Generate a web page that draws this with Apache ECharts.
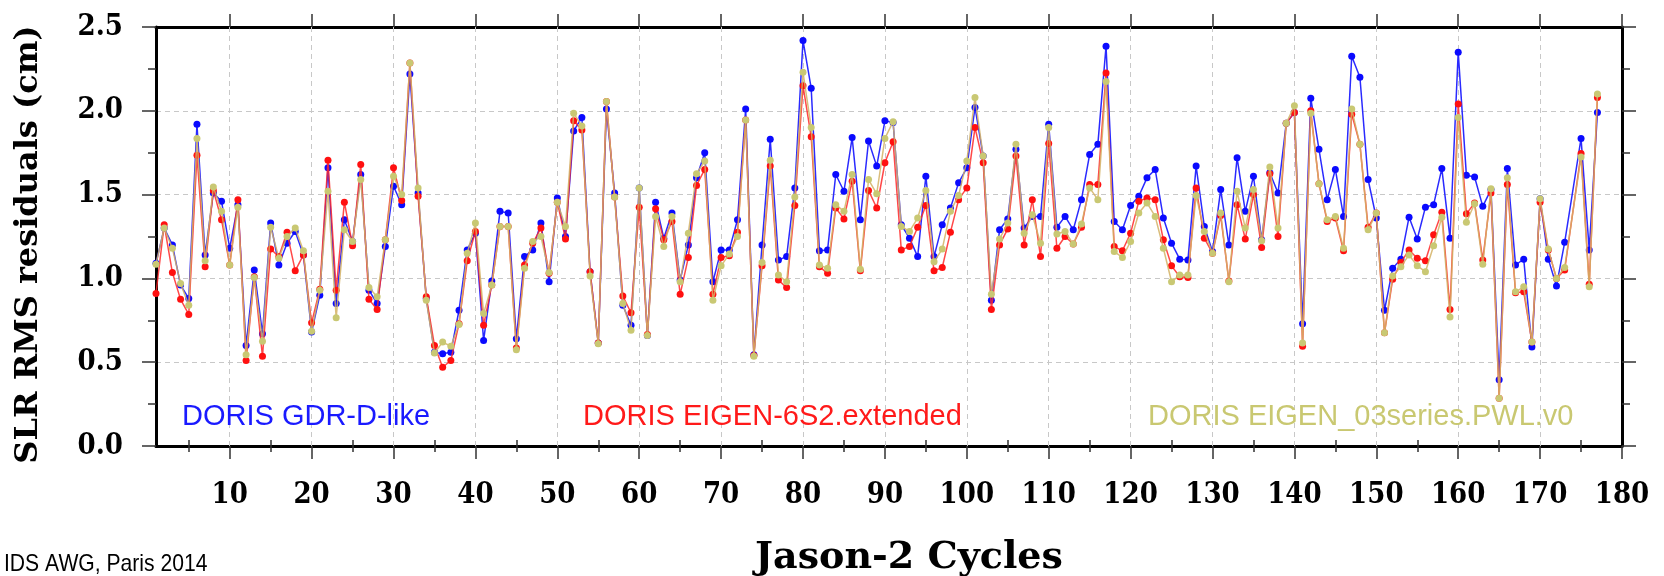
<!DOCTYPE html>
<html>
<head>
<meta charset="utf-8">
<script src="https://cdn.jsdelivr.net/npm/echarts@6/dist/echarts.min.js"></script>
<style>html,body{margin:0;padding:0;background:#fff}#chart{width:1664px;height:576px}</style>
</head>
<body>
<div id="chart"></div>
<script>
// Jason-2 cycle numbers 1..177
const cycles = Array.from({length: 177}, (_, i) => i + 1);
const xLabelValues = [10,20,30,40,50,60,70,80,90,100,110,120,130,140,150,160,170,180];
const xMinorTickValues = [5,15,25,35,45,55,65,75,85,95,105,115,125,135,145,155,165,175];
const xGridValues = [10,20,30,40,50,60,70,80,90,100,110,120,130,140,150,160,170];
const seriesNames = ['DORIS GDR-D-like', 'DORIS EIGEN-6S2.extended', 'DORIS EIGEN_03series.PWL.v0'];

const gdr = [1.09,1.30,1.20,0.96,0.88,1.92,1.14,1.51,1.46,1.18,
1.44,0.60,1.05,0.67,1.33,1.08,1.21,1.28,1.14,0.68,
0.90,1.66,0.85,1.35,1.22,1.62,0.93,0.85,1.19,1.55,
1.44,2.22,1.51,0.88,0.56,0.55,0.56,0.81,1.17,1.27,
0.63,0.985,1.40,1.39,0.64,1.13,1.17,1.33,0.98,1.48,
1.25,1.88,1.96,1.04,0.615,2.01,1.51,0.84,0.72,1.54,
0.66,1.455,1.24,1.39,0.99,1.20,1.60,1.75,0.98,1.17,
1.17,1.35,2.01,0.545,1.20,1.83,1.11,1.13,1.54,2.42,
2.135,1.165,1.17,1.62,1.52,1.84,1.35,1.82,1.67,1.94,
1.93,1.32,1.24,1.13,1.61,1.13,1.32,1.42,1.57,1.66,
2.02,1.73,0.87,1.29,1.355,1.77,1.30,1.37,1.37,1.92,
1.305,1.37,1.29,1.47,1.74,1.80,2.385,1.34,1.29,1.435,
1.49,1.60,1.65,1.36,1.21,1.115,1.11,1.67,1.31,1.16,
1.53,1.20,1.72,1.40,1.61,1.23,1.63,1.51,1.925,1.99,
0.73,2.075,1.77,1.47,1.65,1.37,2.325,2.20,1.59,1.36,
0.81,1.06,1.115,1.365,1.235,1.425,1.44,1.655,1.24,2.35,
1.615,1.605,1.43,1.53,0.395,1.655,1.08,1.115,0.59,1.475,
1.115,0.955,1.215,null,1.835,1.17,1.99];

const eigen6s2 = [0.91,1.32,1.035,0.875,0.785,1.735,1.07,1.525,1.35,1.08,
1.47,0.51,1.01,0.535,1.175,1.13,1.275,1.045,1.14,0.735,
0.935,1.705,0.93,1.455,1.195,1.68,0.875,0.815,1.23,1.66,
1.465,2.285,1.49,0.89,0.60,0.47,0.51,0.73,1.105,1.28,
0.72,0.96,1.31,1.31,0.585,1.08,1.21,1.30,1.03,1.455,
1.235,1.94,1.885,1.04,0.615,2.055,1.485,0.895,0.795,1.425,
0.665,1.415,1.23,1.34,0.905,1.125,1.555,1.65,0.905,1.125,
1.135,1.275,1.945,0.54,1.075,1.67,0.99,0.945,1.435,2.15,
1.845,1.07,1.03,1.42,1.355,1.58,1.045,1.525,1.42,1.69,
1.815,1.17,1.19,1.305,1.435,1.045,1.065,1.275,1.47,1.54,
1.90,1.69,0.815,1.20,1.295,1.73,1.20,1.47,1.13,1.805,
1.18,1.25,1.205,1.305,1.56,1.56,2.225,1.19,1.165,1.27,
1.46,1.48,1.47,1.23,1.075,1.01,1.005,1.54,1.24,1.15,
1.375,0.985,1.44,1.235,1.50,1.185,1.625,1.25,1.925,1.99,
0.595,2.00,1.565,1.34,1.36,1.165,1.98,1.80,1.305,1.39,
0.675,0.995,1.095,1.17,1.12,1.105,1.26,1.395,0.815,2.04,
1.385,1.45,1.11,1.51,0.285,1.56,0.915,0.92,0.62,1.455,
1.17,1.00,1.05,null,1.745,0.965,2.08];

const eigen03 = [1.085,1.30,1.18,0.97,0.84,1.835,1.105,1.545,1.40,1.08,
1.425,0.545,1.005,0.625,1.305,1.12,1.25,1.30,1.165,0.685,
0.93,1.52,0.765,1.29,1.22,1.59,0.945,0.89,1.23,1.61,
1.50,2.285,1.54,0.87,0.555,0.62,0.595,0.725,1.15,1.33,
0.79,0.96,1.31,1.31,0.575,1.06,1.22,1.25,1.035,1.455,
1.31,1.985,1.91,1.015,0.61,2.055,1.485,0.85,0.69,1.54,
0.66,1.37,1.19,1.37,0.98,1.27,1.625,1.70,0.87,1.075,
1.145,1.25,1.945,0.535,1.095,1.705,1.02,0.98,1.485,2.23,
1.90,1.08,1.06,1.44,1.40,1.62,1.055,1.59,1.505,1.835,
1.935,1.31,1.28,1.36,1.525,1.10,1.175,1.40,1.495,1.70,
2.08,1.73,0.905,1.235,1.33,1.80,1.27,1.38,1.21,1.90,
1.265,1.28,1.205,1.325,1.54,1.47,2.175,1.16,1.125,1.22,
1.39,1.45,1.37,1.18,0.98,1.02,1.02,1.495,1.28,1.15,
1.39,0.98,1.52,1.30,1.53,1.225,1.665,1.30,1.925,2.03,
0.615,1.985,1.565,1.35,1.37,1.18,2.01,1.80,1.29,1.39,
0.675,1.015,1.07,1.14,1.075,1.04,1.195,1.365,0.77,1.96,
1.335,1.445,1.085,1.535,0.285,1.60,0.92,0.95,0.62,1.475,
1.175,1.00,1.065,null,1.725,0.95,2.10];

function pairs(vals) { return cycles.map((c, i) => [c, vals[i]]); }

const chart = echarts.init(document.getElementById('chart'), null, {renderer: 'canvas'});
const serifCond = "'DejaVu Serif Condensed', 'DejaVu Serif', serif";
const labelFont = {fontFamily: serifCond, fontWeight: 'bold', fontSize: 29, color: '#000'};
const frame = {show: true, onZero: false, lineStyle: {color: '#000', width: 3}};
const gridDash = {color: '#c8c8c8', width: 1, type: [5, 4]};
const tickStyle = {color: '#333', width: 1.5};

function lineSeries(name, vals, lineColor, dotColor, z) {
  return {
    name: name, type: 'line', data: pairs(vals), connectNulls: true,
    symbol: 'circle', symbolSize: 7, z: z,
    lineStyle: {color: lineColor, width: 1.5},
    itemStyle: {color: dotColor},
    emphasis: {disabled: true}
  };
}

function legendItem(name, left, color) {
  return {
    data: [name], left: left, top: 402, icon: 'none', itemWidth: 0, itemGap: 0,
    selectedMode: false, padding: 0,
    textStyle: {color: color, fontSize: 29, fontFamily: 'Liberation Sans'}
  };
}

function minorXAxis(pos) {
  return {
    type: 'value', position: pos, min: 1, max: 180,
    axisLine: {show: false},
    axisTick: {show: true, inside: false, length: 6, customValues: xMinorTickValues, lineStyle: tickStyle},
    axisLabel: {show: false},
    splitLine: {show: false}
  };
}

chart.setOption({
  animation: false,
  backgroundColor: '#fff',
  grid: {left: 156, right: 42, top: 27, bottom: 130, containLabel: false, outerBoundsMode: 'none'},
  legend: [
    legendItem(seriesNames[0], 177, '#1a1aff'),
    legendItem(seriesNames[1], 578, '#ff1a1a'),
    legendItem(seriesNames[2], 1143, '#c9c871')
  ],
  xAxis: [{
    type: 'value', position: 'bottom', min: 1, max: 180,
    name: 'Jason-2 Cycles', nameLocation: 'middle', nameGap: 93,
    nameTextStyle: {fontFamily: 'DejaVu Serif', fontWeight: 'bold', fontSize: 38, color: '#000', padding: [0, 0, 0, 40]},
    axisLine: frame,
    axisTick: {show: true, inside: false, length: 13, customValues: xLabelValues, lineStyle: tickStyle},
    axisLabel: Object.assign({show: true, margin: 35, customValues: xLabelValues}, labelFont),
    splitLine: {show: false}
  }, {
    type: 'value', position: 'top', min: 1, max: 180,
    axisLine: frame,
    axisTick: {show: true, inside: false, length: 13, customValues: xLabelValues, lineStyle: tickStyle},
    axisLabel: {show: false},
    splitLine: {show: false}
  },
  minorXAxis('bottom'),
  minorXAxis('top')],
  yAxis: [{
    type: 'value', position: 'left', min: 0, max: 2.5, interval: 0.5,
    name: 'SLR RMS residuals (cm)', nameLocation: 'middle', nameGap: 111,
    nameTextStyle: {fontFamily: 'DejaVu Serif', fontWeight: 'bold', fontSize: 32, color: '#000', padding: [0, 16, 0, 0]},
    axisLine: frame,
    axisTick: {show: true, inside: false, length: 14, lineStyle: tickStyle},
    minorTick: {show: true, splitNumber: 2, length: 8, lineStyle: tickStyle},
    axisLabel: Object.assign({margin: 33, formatter: v => v.toFixed(1)}, labelFont),
    splitLine: {show: true, lineStyle: gridDash}
  }, {
    type: 'value', position: 'right', min: 0, max: 2.5, interval: 0.5,
    axisLine: frame,
    axisTick: {show: true, inside: false, length: 14, lineStyle: tickStyle},
    minorTick: {show: true, splitNumber: 2, length: 8, lineStyle: tickStyle},
    axisLabel: {show: false},
    splitLine: {show: false}
  }],
  graphic: [{
    type: 'text', left: 4, top: 552, scaleX: 0.88, originX: 0,
    style: {text: 'IDS AWG, Paris 2014', fill: '#000', font: "24px 'Liberation Sans', sans-serif"}
  }],
  series: [
    {
      name: 'grid', type: 'line', data: [], z: 1, silent: true,
      markLine: {
        silent: true, symbol: ['none', 'none'], z: 1, animation: false,
        label: {show: false}, lineStyle: gridDash, emphasis: {disabled: true},
        data: xGridValues.map(v => ({xAxis: v}))
      }
    },
    lineSeries(seriesNames[0], gdr, '#2a2aff', '#0a0aff', 2),
    lineSeries(seriesNames[1], eigen6s2, 'rgba(255,40,40,0.85)', '#ff1010', 3),
    lineSeries(seriesNames[2], eigen03, 'rgba(212,178,100,0.85)', '#c9c873', 4)
  ]
});
</script>
</body>
</html>
